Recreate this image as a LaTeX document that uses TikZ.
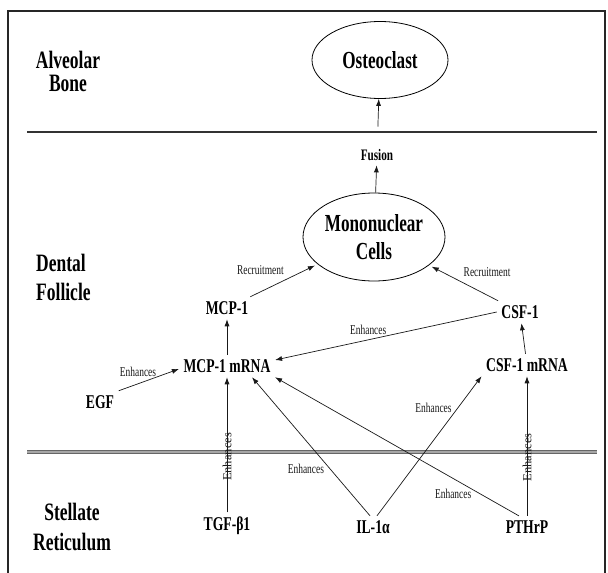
\documentclass[tikz,border=0pt]{standalone}
\usepackage{fontspec}
\setmainfont{Liberation Serif}[FakeStretch=0.7]
\newfontfamily\uprightserif{Liberation Serif}
\usetikzlibrary{shapes.geometric,arrows.meta}

\tikzset{
  zone/.style={font=\fontsize{25}{26}\selectfont\bfseries, align=center, inner sep=0pt},
  cellnode/.style={draw, ellipse, line width=0.8pt, inner sep=0pt,
    font=\fontsize{24.5}{25}\selectfont\bfseries, align=center},
  factor/.style={font=\fontsize{19.5}{20}\selectfont\bfseries, inner sep=4.5pt},
  effect/.style={font=\fontsize{13.5}{14}\selectfont, inner sep=1pt},
  effectup/.style={font=\uprightserif\fontsize{12.5}{14}\selectfont, inner sep=1pt, sloped},
  arr/.style={-{Latex[length=7pt,width=5pt]}, line width=0.7pt, black!90},
}

\begin{document}
\begin{tikzpicture}[x=1pt,y=-1pt]
    \useasboundingbox (0,0) rectangle (608,573);
    % frame and layer boundaries
    \draw[line width=1.5pt, black!85] (8,11) rectangle (605,600);
    \draw[line width=1.6pt, black!80] (27,132) -- (597,132);
    \draw[line width=3.4pt, black!60] (27,452) -- (597,452);
    \draw[line width=1.2pt, black!35] (27,452) -- (597,452);

    \node[zone] (alveolar) at (68,71.5) {Alveolar\\[-3pt]Bone};
    \node[zone, align=left, anchor=west] (follicle) at (36,277.5) {Dental\\[3pt]Follicle};
    \node[zone] (stellate) at (72,527) {Stellate\\[4pt]Reticulum};

    \node[cellnode, minimum width=136pt, minimum height=77pt] (osteo) at (380,60) {Osteoclast};
    \node[factor, font=\fontsize{16}{18}\selectfont\bfseries] (fusion) at (377,155) {Fusion};
    \node[cellnode, minimum width=142pt, minimum height=88pt] (mono) at (374,237) {Mononuclear\\[3pt]Cells};
    \node[factor] (mcp) at (227,308) {MCP-1};
    \node[factor] (csf) at (520,312) {CSF-1};
    \node[factor] (mcpm) at (227,366) {MCP-1 mRNA};
    \node[factor] (csfm) at (527,365) {CSF-1 mRNA};
    \node[factor] (egf) at (100,402) {EGF};
    \node[factor] (tgf) at (227,526) {TGF-β1};
    \node[factor] (il) at (373,527) {IL-1α};
    \node[factor] (pth) at (527,527) {PTHrP};

    \draw[arr] (mono) -- (fusion);
    \draw[arr, shorten <=18pt] (fusion) -- (osteo);
    \draw[arr, shorten >=3pt] (mcp) -- node[effect, pos=.15, yshift=22pt] {Recruitment} (mono);
    \draw[arr, shorten >=3pt] (csf) -- node[effect, pos=.16, yshift=23pt] {Recruitment} (mono);
    \draw[arr] (mcpm) -- (mcp);
    \draw[arr] (csfm) -- (csf);
    \draw[arr] (csf.west) -- node[effect, pos=.58, yshift=10pt] {Enhances} ([yshift=6pt]mcpm.east);
    \draw[arr] (egf.north east) -- node[effect, pos=.32, yshift=12pt] {Enhances} ([yshift=-3pt]mcpm.west);
    \draw[arr] (tgf) -- node[effectup, pos=.41] {Enhances} (mcpm);
    \draw[arr] ([xshift=-3pt]il.north) -- node[effect, pos=.34, xshift=-24pt] {Enhances} ([xshift=25pt]mcpm.south);
    \draw[arr] ([xshift=4pt]il.north) -- node[effect, pos=.77, xshift=-24pt] {Enhances} (csfm.south west);
    \draw[arr] ([xshift=-8pt]pth.north) -- node[effect, pos=.27, yshift=-15pt] {Enhances} (mcpm.south east);
    \draw[arr] (pth) -- node[effectup, pos=.42] {Enhances} (csfm);
\end{tikzpicture}
\end{document}
